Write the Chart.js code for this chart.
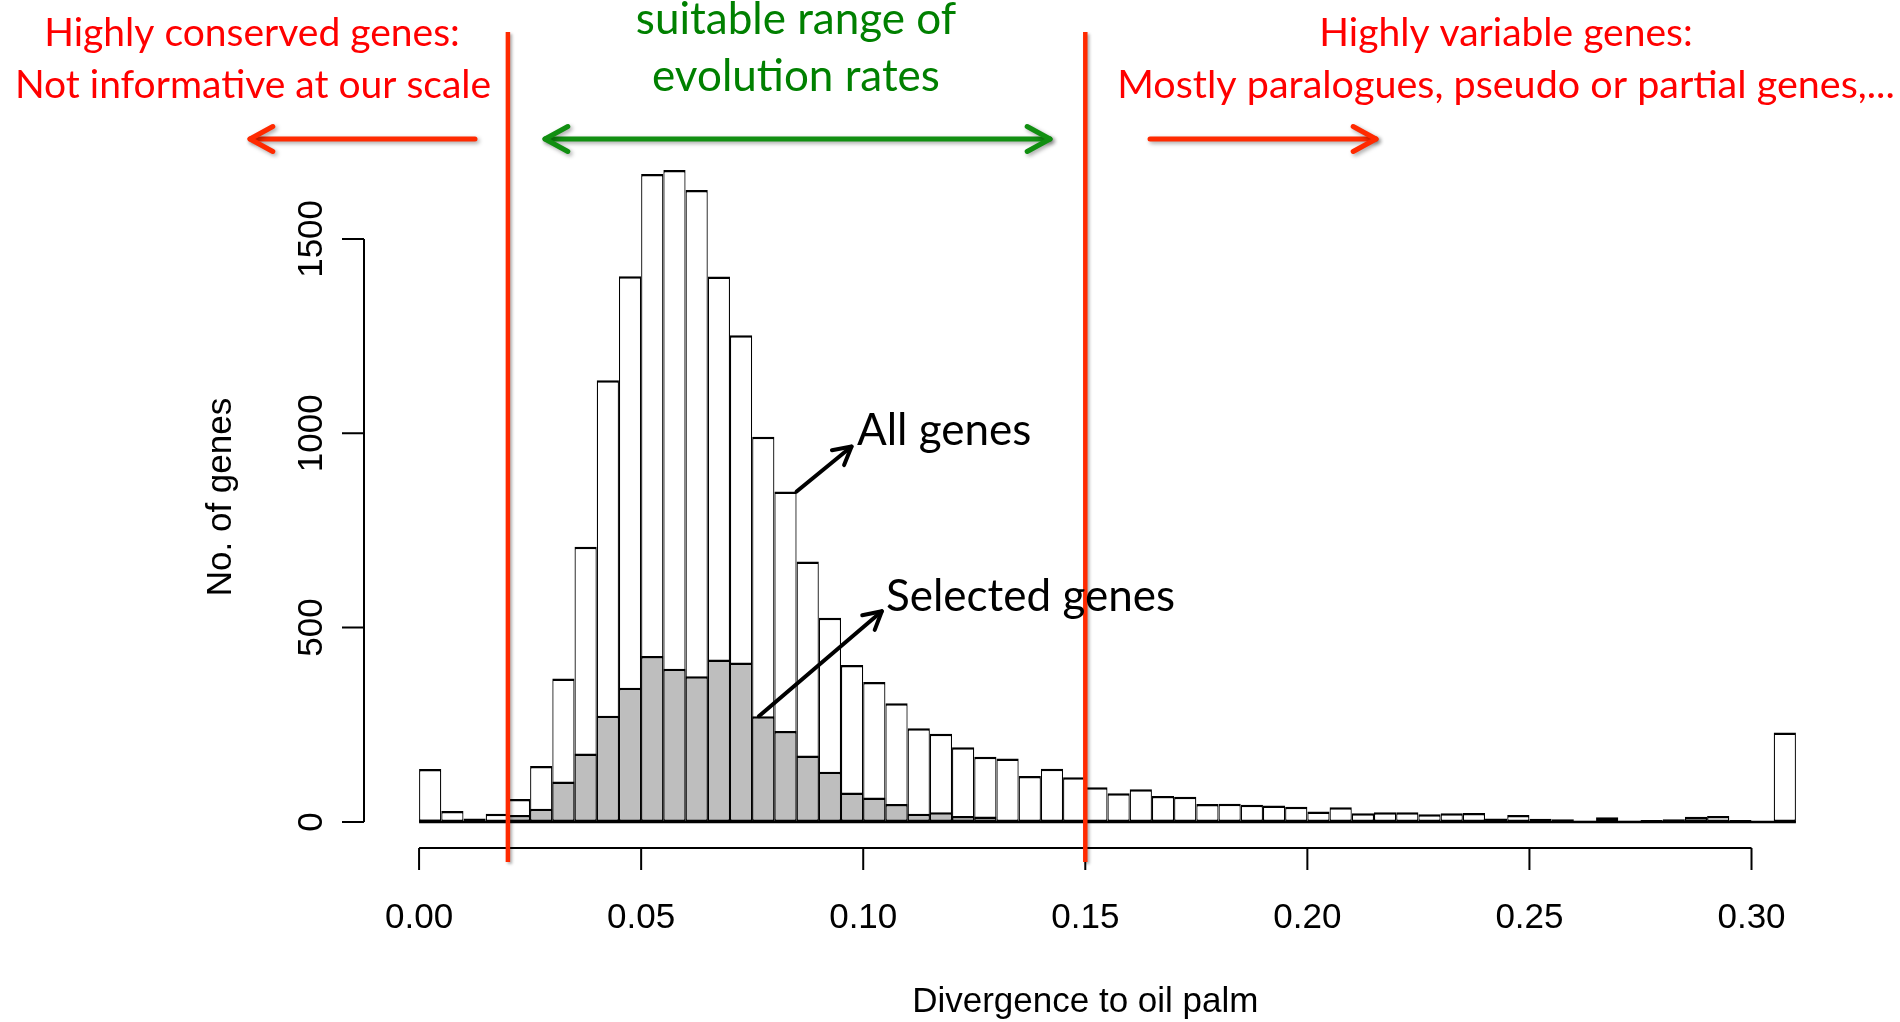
<!DOCTYPE html>
<html lang="en">
<head>
<meta charset="UTF-8">
<title>Divergence to oil palm</title>
<script src="https://cdn.jsdelivr.net/npm/chart.js"></script>
<style>
  html, body { margin: 0; padding: 0; background: #fff; }
  canvas { display: block; }
</style>
</head>
<body>
<canvas id="divChart" width="1900" height="1022"></canvas>
<script>
// gene counts per divergence bin (bins of 0.005 starting at 0)
const binWidth = 0.005;
const allGenes = [
  136, 28, 9, 21, 59, 144, 369, 708, 1136, 1404,
  1667, 1677, 1626, 1403, 1252, 991, 850, 670, 525, 404,
  360, 305, 241, 227, 192, 168, 163, 118, 137, 115,
  89, 74, 84, 67, 65, 46, 47, 44, 42, 39,
  27, 38, 22, 25, 25, 20, 22, 23, 9, 18,
  8, 7, 3, 12, 3, 5, 7, 13, 15, 5,
  0, 230
];
const selectedGenes = [
  6, 1, 0, 2, 18, 34, 104, 176, 273, 345,
  427, 394, 375, 418, 410, 272, 234, 171, 129, 76,
  63, 46, 21, 25, 15, 14, 4, 2, 2, 1,
  0, 0, 0, 0, 0, 0, 0, 0, 0, 0,
  0, 0, 0, 0, 0, 0, 0, 0, 0, 0,
  0, 0, 0, 0, 0, 0, 0, 0, 0, 0,
  0, 0
];
const xTicks = [0, 0.05, 0.10, 0.15, 0.20, 0.25, 0.30];
const xTickLabels = ['0.00', '0.05', '0.10', '0.15', '0.20', '0.25', '0.30'];
const yTicks = [0, 500, 1000, 1500];
const yTickLabels = ['0', '500', '1000', '1500'];
const cutoffs = [0.02, 0.15];

const binCenters = allGenes.map((_, i) => (i + 0.5) * binWidth);

const RED = '#ff2a00';
const TEXT_RED = '#ff0000';
const GREEN_TEXT = '#008000';
const GREEN = '#118f11';
const AXIS_FONT = '35px "Liberation Sans", Arial, sans-serif';
const NOTE_FONT = '"Lato", "Open Sans", sans-serif';

function drawHead(ctx, x, y, ang, len, spread) {
  ctx.beginPath();
  ctx.moveTo(x - len * Math.cos(ang - spread), y - len * Math.sin(ang - spread));
  ctx.lineTo(x, y);
  ctx.lineTo(x - len * Math.cos(ang + spread), y - len * Math.sin(ang + spread));
  ctx.stroke();
}

function arrow(ctx, x1, y1, x2, y2, opts) {
  const ang = Math.atan2(y2 - y1, x2 - x1);
  ctx.save();
  ctx.strokeStyle = opts.color;
  ctx.lineWidth = opts.width;
  ctx.lineCap = 'round';
  ctx.lineJoin = 'round';
  if (opts.shadow) {
    ctx.shadowColor = 'rgba(0,0,0,0.35)';
    ctx.shadowBlur = 4;
    ctx.shadowOffsetX = 2;
    ctx.shadowOffsetY = 2;
  }
  ctx.beginPath();
  ctx.moveTo(x1, y1);
  ctx.lineTo(x2, y2);
  ctx.stroke();
  drawHead(ctx, x2, y2, ang, opts.head, opts.spread);
  if (opts.both) drawHead(ctx, x1, y1, ang + Math.PI, opts.head, opts.spread);
  ctx.restore();
}

function text(ctx, str, x, y, size, color, align) {
  ctx.save();
  ctx.font = size + 'px ' + NOTE_FONT;
  ctx.fillStyle = color;
  ctx.textAlign = align || 'center';
  ctx.textBaseline = 'alphabetic';
  ctx.fillText(str, x, y);
  ctx.restore();
}

// baseline under the histogram (shows empty bins like R does)
const histBase = {
  id: 'histBase',
  beforeDatasetsDraw(chart) {
    const { ctx, scales: { x, y } } = chart;
    ctx.save();
    ctx.strokeStyle = '#000';
    ctx.lineWidth = 2.5;
    ctx.beginPath();
    ctx.moveTo(x.getPixelForValue(0), y.getPixelForValue(0));
    ctx.lineTo(x.getPixelForValue(allGenes.length * binWidth), y.getPixelForValue(0));
    ctx.stroke();
    ctx.restore();
  }
};

// R-style axes: lines only span the tick range, y labels rotated
const rAxes = {
  id: 'rAxes',
  afterDatasetsDraw(chart) {
    const { ctx, chartArea, scales: { x, y } } = chart;
    const tick = 22;
    ctx.save();
    ctx.strokeStyle = '#000';
    ctx.fillStyle = '#000';
    ctx.lineWidth = 2;
    ctx.font = AXIS_FONT;

    // x axis
    const ay = chartArea.bottom;
    ctx.beginPath();
    ctx.moveTo(x.getPixelForValue(xTicks[0]), ay);
    ctx.lineTo(x.getPixelForValue(xTicks[xTicks.length - 1]), ay);
    xTicks.forEach(v => {
      const px = x.getPixelForValue(v);
      ctx.moveTo(px, ay);
      ctx.lineTo(px, ay + tick);
    });
    ctx.stroke();
    ctx.textAlign = 'center';
    ctx.textBaseline = 'alphabetic';
    xTicks.forEach((v, i) => ctx.fillText(xTickLabels[i], x.getPixelForValue(v), 928));
    ctx.fillText('Divergence to oil palm', (x.getPixelForValue(0) + x.getPixelForValue(0.3)) / 2, 1012);

    // y axis
    const ax = chartArea.left;
    ctx.beginPath();
    ctx.moveTo(ax, y.getPixelForValue(yTicks[0]));
    ctx.lineTo(ax, y.getPixelForValue(yTicks[yTicks.length - 1]));
    yTicks.forEach(v => {
      const py = y.getPixelForValue(v);
      ctx.moveTo(ax, py);
      ctx.lineTo(ax - tick, py);
    });
    ctx.stroke();
    yTicks.forEach((v, i) => {
      ctx.save();
      ctx.translate(322, y.getPixelForValue(v));
      ctx.rotate(-Math.PI / 2);
      ctx.fillText(yTickLabels[i], 0, 0);
      ctx.restore();
    });
    ctx.save();
    ctx.translate(231, 497);
    ctx.rotate(-Math.PI / 2);
    ctx.fillText('No. of genes', 0, 0);
    ctx.restore();
    ctx.restore();
  }
};

// cut-off lines, range arrows and labels
const notes = {
  id: 'notes',
  afterDraw(chart) {
    const { ctx, scales: { x, y } } = chart;

    ctx.save();
    ctx.strokeStyle = RED;
    ctx.lineWidth = 4.5;
    ctx.shadowColor = 'rgba(0,0,0,0.3)';
    ctx.shadowBlur = 3;
    ctx.shadowOffsetX = 2;
    ctx.shadowOffsetY = 2;
    cutoffs.forEach(c => {
      const px = x.getPixelForValue(c);
      ctx.beginPath();
      ctx.moveTo(px, 32);
      ctx.lineTo(px, 862);
      ctx.stroke();
    });
    ctx.restore();

    const hy = 139;
    arrow(ctx, 475, hy, 250, hy, { color: RED, width: 5, head: 26, spread: 0.5, shadow: true });
    arrow(ctx, 545, hy, 1050, hy, { color: GREEN, width: 5, head: 26, spread: 0.5, shadow: true, both: true });
    arrow(ctx, 1150, hy, 1376, hy, { color: RED, width: 5, head: 26, spread: 0.5, shadow: true });

    text(ctx, 'Highly conserved genes:', 252, 46, 39, TEXT_RED);
    text(ctx, 'Not informative at our scale', 253, 98, 39, TEXT_RED);
    text(ctx, 'suitable range of', 796, 34, 44, GREEN_TEXT);
    text(ctx, 'evolution rates', 796, 91, 44, GREEN_TEXT);
    text(ctx, 'Highly variable genes:', 1506, 46, 39, TEXT_RED);
    text(ctx, 'Mostly paralogues, pseudo or partial genes,...', 1506, 98, 39.5, TEXT_RED);

    // pointers to the two histograms
    const ax0 = x.getPixelForValue(17 * binWidth), ay0 = y.getPixelForValue(allGenes[16]);
    arrow(ctx, ax0, ay0, ax0 + 55, ay0 - 45, { color: '#000', width: 4, head: 20, spread: 0.5 });
    const sx0 = x.getPixelForValue(15.3 * binWidth), sy0 = y.getPixelForValue(selectedGenes[15]);
    arrow(ctx, sx0, sy0, sx0 + 123, sy0 - 105, { color: '#000', width: 4, head: 20, spread: 0.5 });
    text(ctx, 'All genes', 857, 445, 44, '#000', 'left');
    text(ctx, 'Selected genes', 886, 611, 44, '#000', 'left');
  }
};

const ctx = document.getElementById('divChart').getContext('2d');
const barBorder = { top: 2.5, bottom: 2.5, left: 1.25, right: 1.25 };

new Chart(ctx, {
  type: 'bar',
  data: {
    datasets: [
      {
        label: 'Selected genes',
        data: binCenters.map((v, i) => ({ x: v, y: selectedGenes[i] })),
        backgroundColor: '#bebebe',
        borderColor: '#000',
        borderWidth: barBorder,
        borderSkipped: false,
        order: 0
      },
      {
        label: 'All genes',
        data: binCenters.map((v, i) => ({ x: v, y: allGenes[i] })),
        backgroundColor: '#ffffff',
        borderColor: '#000',
        borderWidth: barBorder,
        borderSkipped: false,
        order: 1
      }
    ]
  },
  options: {
    responsive: false,
    animation: false,
    devicePixelRatio: 1,
    layout: { padding: { left: 364, right: 49, top: 144, bottom: 174 } },
    datasets: {
      bar: { grouped: false, barPercentage: 1, categoryPercentage: 1, inflateAmount: 0 }
    },
    scales: {
      x: { type: 'linear', display: false, offset: false, min: -0.0124, max: 0.3224 },
      y: { display: false, min: -67.08, max: 1744.1 }
    },
    plugins: {
      legend: { display: false },
      tooltip: { enabled: false }
    }
  },
  plugins: [histBase, rAxes, notes]
});
</script>
</body>
</html>
